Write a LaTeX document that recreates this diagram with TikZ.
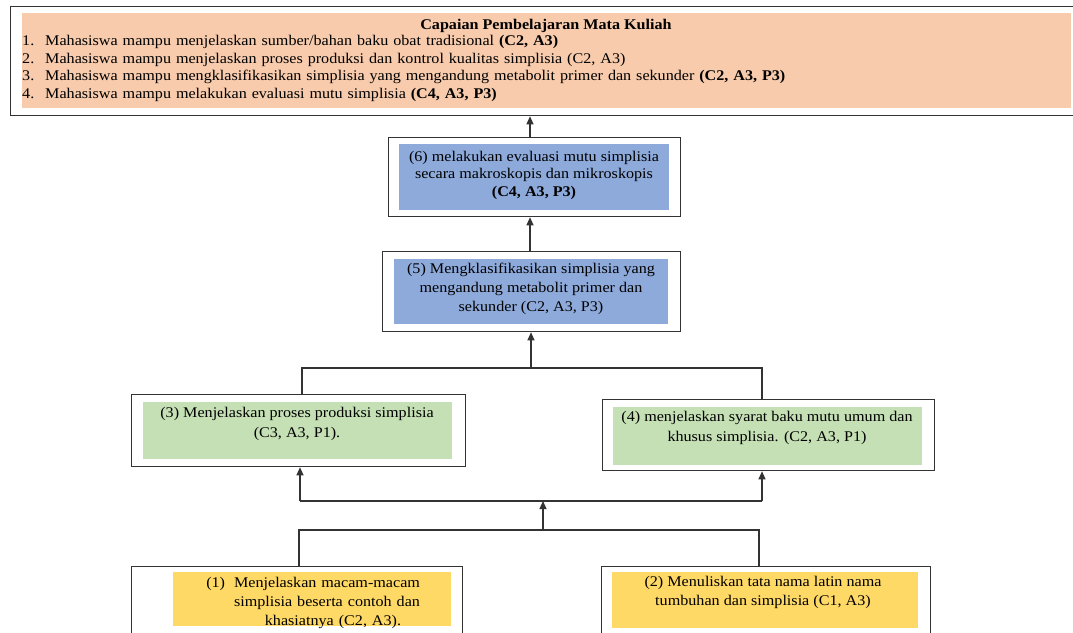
\documentclass[tikz,border=0pt]{standalone}
\usepackage{fontspec}
\setmainfont[FakeStretch=1.09]{Liberation Serif}
\usetikzlibrary{arrows.meta}
\definecolor{peach}{HTML}{F7CBAC}
\definecolor{bluefill}{HTML}{8EAADB}
\definecolor{greenfill}{HTML}{C5E0B4}
\definecolor{yellowfill}{HTML}{FFD966}
\definecolor{linecol}{HTML}{333333}
\begin{document}
\begin{tikzpicture}[x=1pt,y=-1pt,
  outerbox/.style={draw=linecol, line width=1.3pt, fill=white, anchor=north west, inner sep=0pt},
  innerbox/.style={anchor=north west, inner sep=0pt, draw=none},
  txt/.style={font=\fontsize{14.8}{18.7}\selectfont, align=center, inner sep=0pt},
  conn/.style={draw=linecol, line width=1.2pt},
  arr/.style={conn, -{Triangle[length=8pt,width=7pt]}}]
\useasboundingbox (0,0) rectangle (1073,632);
\clip (0,0) rectangle (1073,632);

% top box
\node[outerbox, minimum width=1080pt, minimum height=109pt] (cpo) at (10,6) {};
\node[innerbox, fill=peach, minimum width=1049pt, minimum height=95pt] (cpi) at (22,13) {};
\node[txt, font=\fontsize{14.8}{18}\selectfont\bfseries] (cpt) at (546,26) {Capaian Pembelajaran Mata Kuliah};
\node[txt, anchor=north west, align=left, text width=1040pt, font=\fontsize{14.8}{17.6}\selectfont] (cpl) at (22,35)
 {\makebox[23pt][l]{1.}Mahasiswa mampu menjelaskan sumber/bahan baku obat tradisional \textbf{(C2, A3)}\\
  \makebox[23pt][l]{2.}Mahasiswa mampu menjelaskan proses produksi dan kontrol kualitas simplisia (C2, A3)\\
  \makebox[23pt][l]{3.}Mahasiswa mampu mengklasifikasikan simplisia yang mengandung metabolit primer dan sekunder \textbf{(C2, A3, P3)}\\
  \makebox[23pt][l]{4.}Mahasiswa mampu melakukan evaluasi mutu simplisia \textbf{(C4, A3, P3)}};

% box 6
\node[outerbox, minimum width=292pt, minimum height=79pt] (b6o) at (388,137) {};
\node[innerbox, fill=bluefill, minimum width=270pt, minimum height=66pt] (b6i) at (399,144) {};
\node[txt, font=\fontsize{14.8}{17.5}\selectfont] (b6t) at (534,175) {(6) melakukan evaluasi mutu simplisia\\secara makroskopis dan mikroskopis\\\textbf{(C4, A3, P3)}};

% box 5
\node[outerbox, minimum width=298pt, minimum height=80pt] (b5o) at (382,251) {};
\node[innerbox, fill=bluefill, minimum width=274pt, minimum height=65pt] (b5i) at (394,259) {};
\node[txt] (b5t) at (531,289) {(5) Mengklasifikasikan simplisia yang\\mengandung metabolit primer dan\\sekunder (C2, A3, P3)};

% box 3
\node[outerbox, minimum width=334pt, minimum height=72pt] (b3o) at (131,394) {};
\node[innerbox, fill=greenfill, minimum width=309pt, minimum height=57pt] (b3i) at (143,402) {};
\node[txt, font=\fontsize{14.8}{19.5}\selectfont] (b3t) at (297,424) {(3) Menjelaskan proses produksi simplisia\\(C3, A3, P1).};

% box 4
\node[outerbox, minimum width=332pt, minimum height=71pt] (b4o) at (602,399) {};
\node[innerbox, fill=greenfill, minimum width=309pt, minimum height=58pt] (b4i) at (613,407) {};
\node[txt, font=\fontsize{14.8}{19.5}\selectfont] (b4t) at (767,428) {(4) menjelaskan syarat baku mutu umum dan\\khusus simplisia. (C2, A3, P1)};

% box 1
\node[outerbox, minimum width=331pt, minimum height=90pt] (b1o) at (131,566) {};
\node[innerbox, fill=yellowfill, minimum width=278pt, minimum height=54pt] (b1i) at (173,572) {};
\node[txt, text width=192pt, anchor=north, font=\fontsize{14.8}{19}\selectfont] (b1t) at (327,577) {\llap{(1)\hspace{9pt}}Menjelaskan macam-macam\\simplisia beserta contoh dan\\\hspace*{12pt}khasiatnya (C2, A3).};

% box 2
\node[outerbox, minimum width=329pt, minimum height=90pt] (b2o) at (601,566) {};
\node[innerbox, fill=yellowfill, minimum width=306pt, minimum height=56pt] (b2i) at (612,572) {};
\node[txt, font=\fontsize{14.8}{19}\selectfont] (b2t) at (763,592) {(2) Menuliskan tata nama latin nama\\tumbuhan dan simplisia (C1, A3)};

% connectors
\coordinate (a6) at (530,137);
\draw[arr] (a6) -- (a6 |- cpo.south);
\coordinate (a5) at (530,251);
\draw[arr] (a5) -- (a5 |- b6o.south);

\coordinate (u3) at (302,368);
\coordinate (u4) at (762,368);
\coordinate (j1) at (531,368);
\draw[conn] (u3 |- b3o.north) -- (u3) -- (u4) -- (u4 |- b4o.north);
\draw[arr] (j1) -- (j1 |- b5o.south);

\coordinate (l3) at (300,501);
\coordinate (l4) at (762,501);
\draw[conn] (l3) -- (l4);
\draw[arr] (l3) -- (l3 |- b3o.south);
\draw[arr] (l4) -- (l4 |- b4o.south);

\coordinate (d1) at (299,530);
\coordinate (d2) at (759,530);
\coordinate (j2) at (543,530);
\draw[conn] (d1 |- b1o.north) -- (d1) -- (d2) -- (d2 |- b2o.north);
\draw[arr] (j2) -- (j2 |- l3);
\end{tikzpicture}
\end{document}
